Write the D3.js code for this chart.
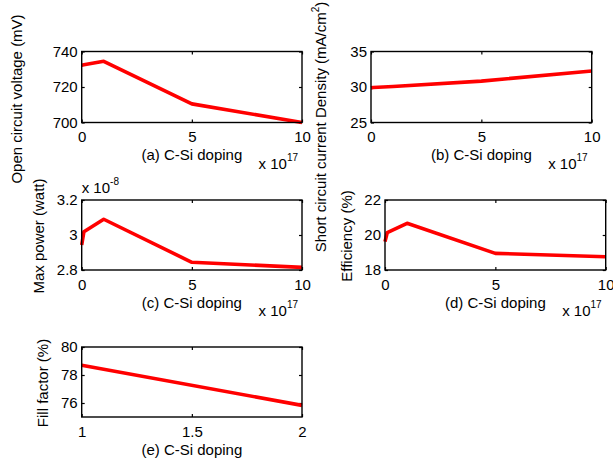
<!DOCTYPE html>
<html>
<head>
<meta charset="utf-8">
<script src="https://cdn.jsdelivr.net/npm/d3@7"></script>
<style>
  html, body { margin: 0; padding: 0; background: #fff; }
  svg { display: block; }
  text { font-family: "Liberation Sans", Arial, Helvetica, sans-serif; fill: #000; }
</style>
</head>
<body>
<svg id="fig" width="613" height="466"></svg>
<script>
// Doping levels (units of 1e17 cm^-3)
const dopingX = [0, 0.1, 1, 5, 10];
const dopingTicks = [0, 5, 10];

// Open circuit voltage (mV)
const vocValues = [732.3, 732.5, 734.5, 710.5, 700.0];
const vocTicks = [700, 720, 740];

// Short circuit current density (mA/cm^2)
const jscValues = [29.88, 29.93, 30.07, 30.83, 32.25];
const jscTicks = [25, 30, 35];

// Max power (units of 1e-8 W)
const pmaxValues = [2.943, 3.019, 3.090, 2.844, 2.815];
const pmaxTicks = [2.8, 3.0, 3.2];

// Efficiency (%)
const effValues = [19.62, 20.13, 20.67, 18.95, 18.76];
const effTicks = [18, 20, 22];

// Fill factor (%)
const ffX = [1, 2];
const ffValues = [78.7, 75.83];
const ffXTicks = [1, 1.5, 2];
const ffTicks = [76, 78, 80];

const svg = d3.select("#fig");
const FS = 15;

function panel(cfg) {
  const { left, right, top, bottom } = cfg.box;
  const x = d3.scaleLinear().domain(cfg.xDomain).range([left, right]);
  const y = d3.scaleLinear().domain(cfg.yDomain).range([bottom, top]);
  const g = svg.append("g");

  // Tick labels + inward ticks on the left and bottom
  const ax = g.append("g").attr("transform", `translate(0,${bottom})`)
    .call(d3.axisBottom(x).tickValues(cfg.xTicks).tickSizeInner(-3).tickSizeOuter(0)
      .tickPadding(9).tickFormat(d3.format("~g")));
  const ay = g.append("g").attr("transform", `translate(${left},0)`)
    .call(d3.axisLeft(y).tickValues(cfg.yTicks).tickSizeInner(-3).tickSizeOuter(0)
      .tickPadding(4).tickFormat(cfg.yFormat || d3.format("~g")));
  // Mirrored ticks on the top and right
  const axT = g.append("g").attr("transform", `translate(0,${top})`)
    .call(d3.axisTop(x).tickValues(cfg.xTicks).tickSizeInner(-3).tickSizeOuter(0).tickFormat(""));
  const ayR = g.append("g").attr("transform", `translate(${right},0)`)
    .call(d3.axisRight(y).tickValues(cfg.yTicks).tickSizeInner(-3).tickSizeOuter(0).tickFormat(""));
  [ax, ay, axT, ayR].forEach(a => {
    a.select(".domain").remove();
    a.selectAll("line").attr("stroke", "#000").attr("stroke-width", 1.2);
    a.selectAll("text").attr("font-size", FS).attr("fill", "#000")
      .attr("font-family", "Liberation Sans, Arial, sans-serif");
  });

  // Data line
  const line = d3.line().x((d, i) => x(cfg.xs[i])).y(d => y(d));
  g.append("path").datum(cfg.ys)
    .attr("d", line)
    .attr("fill", "none")
    .attr("stroke", "#ff0000")
    .attr("stroke-width", 3.6)
    .attr("stroke-linejoin", "round");

  // Axes box
  g.append("rect")
    .attr("x", left).attr("y", top)
    .attr("width", right - left).attr("height", bottom - top)
    .attr("fill", "none").attr("stroke", "#000").attr("stroke-width", 1.4);

  // X label
  g.append("text")
    .attr("x", (left + right) / 2).attr("y", bottom + 37.5)
    .attr("text-anchor", "middle").attr("font-size", FS)
    .text(cfg.xLabel);

  // X exponent
  if (cfg.xExp) {
    const t = g.append("text")
      .attr("x", right - 4).attr("y", bottom + 46)
      .attr("text-anchor", "end").attr("font-size", FS);
    t.append("tspan").text("x 10");
    t.append("tspan").attr("font-size", 10).attr("dy", -8).text(cfg.xExp);
  }

  // Y exponent
  if (cfg.yExp) {
    const t = g.append("text")
      .attr("x", left).attr("y", top - 7)
      .attr("font-size", FS);
    t.append("tspan").text("x 10");
    t.append("tspan").attr("font-size", 10).attr("dy", -8).text(cfg.yExp);
  }

  // Y label (rotated)
  const yl = g.append("text")
    .attr("transform", `translate(${cfg.yLabelPos[0]},${cfg.yLabelPos[1]}) rotate(-90)`)
    .attr("text-anchor", "middle").attr("dy", "0.35em").attr("font-size", FS);
  cfg.yLabel.forEach(part => {
    const ts = yl.append("tspan").text(part.t);
    if (part.sup) ts.attr("font-size", 10).attr("dy", -7);
    if (part.after) ts.attr("dy", 7);
  });
}

panel({
  box: { left: 81.7, right: 302, top: 51.5, bottom: 122.5 },
  xs: dopingX, ys: vocValues, xDomain: [0, 10], yDomain: [700, 740],
  xTicks: dopingTicks, yTicks: vocTicks,
  xLabel: "(a) C-Si doping", xExp: "17",
  yLabel: [{ t: "Open circuit voltage (mV)" }], yLabelPos: [17, 99]
});

panel({
  box: { left: 371, right: 591.7, top: 51.5, bottom: 122.5 },
  xs: dopingX, ys: jscValues, xDomain: [0, 10], yDomain: [25, 35],
  xTicks: dopingTicks, yTicks: jscTicks,
  xLabel: "(b) C-Si doping", xExp: "17",
  yLabel: [{ t: "Short circuit current Density (mA/cm" }, { t: "2", sup: true }, { t: ")", after: true }],
  yLabelPos: [321, 127]
});

panel({
  box: { left: 81.7, right: 302, top: 200, bottom: 270 },
  xs: dopingX, ys: pmaxValues, xDomain: [0, 10], yDomain: [2.8, 3.2],
  xTicks: dopingTicks, yTicks: pmaxTicks,
  xLabel: "(c) C-Si doping", xExp: "17", yExp: "-8",
  yLabel: [{ t: "Max power (watt)" }], yLabelPos: [39, 236]
});

panel({
  box: { left: 385, right: 605.7, top: 200, bottom: 270 },
  xs: dopingX, ys: effValues, xDomain: [0, 10], yDomain: [18, 22],
  xTicks: dopingTicks, yTicks: effTicks,
  xLabel: "(d) C-Si doping", xExp: "17",
  yLabel: [{ t: "Efficiency (%)" }], yLabelPos: [347, 236]
});

panel({
  box: { left: 81.7, right: 302, top: 347, bottom: 417 },
  xs: ffX, ys: ffValues, xDomain: [1, 2], yDomain: [75, 80],
  xTicks: ffXTicks, yTicks: ffTicks,
  xLabel: "(e) C-Si doping",
  yLabel: [{ t: "Fill factor (%)" }], yLabelPos: [43, 383]
});
</script>
</body>
</html>
